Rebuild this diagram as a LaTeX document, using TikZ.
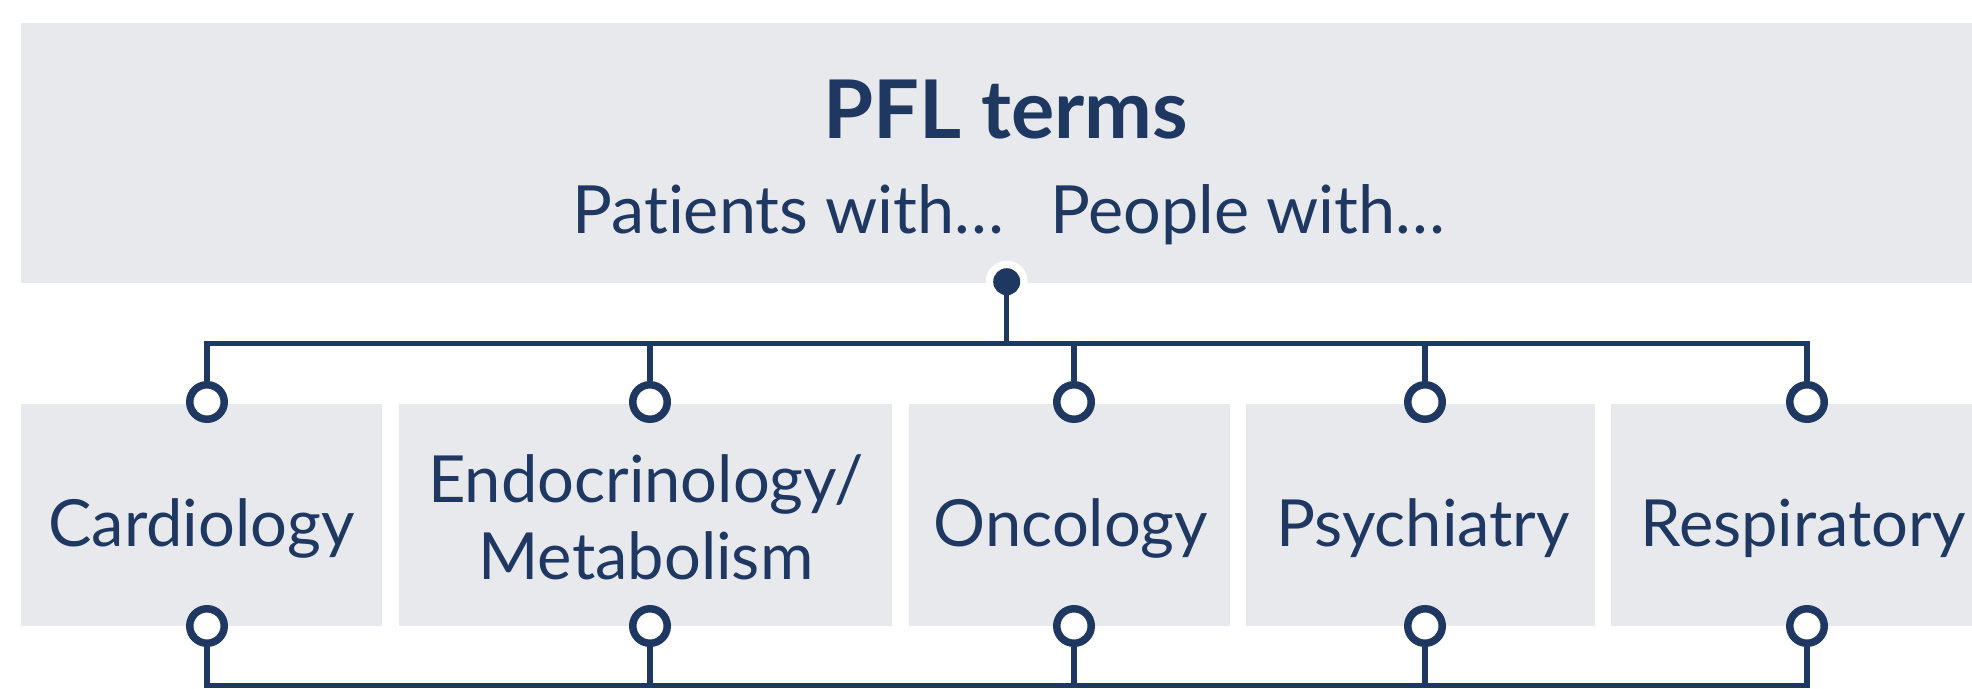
\documentclass[tikz,border=0pt]{standalone}
\usepackage{fontspec}
\setmainfont{Lato}[Ligatures=NoCommon]
\definecolor{navy}{RGB}{31,56,98}
\definecolor{panel}{RGB}{232,233,237}
\begin{document}
\begin{tikzpicture}[x=1pt,y=-1pt,
  panelbox/.style={fill=panel,draw=none,inner sep=0,outer sep=0},
  lbl/.style={text=navy,font=\fontsize{65}{78}\selectfont,inner sep=0,anchor=base},
  conn/.style={draw=navy,line width=5.5pt,line join=miter},
  ring/.style={circle,draw=navy,fill=white,line width=7.5pt,minimum size=34.5pt,inner sep=0},
  hubdot/.style={circle,fill=navy,minimum size=27pt,inner sep=0},
  halo/.style={circle,fill=white,minimum size=42pt,inner sep=0}]
\useasboundingbox (0,0) rectangle (1972,688);

% header panel and category panels
\path[panelbox] (21,23) rectangle (1972,283);
\node[panelbox,minimum width=361pt,minimum height=222pt] (card) at (201.5,515) {};
\node[panelbox,minimum width=493pt,minimum height=222pt] (endo) at (645.5,515) {};
\node[panelbox,minimum width=321pt,minimum height=222pt] (onco) at (1069.5,515) {};
\node[panelbox,minimum width=349pt,minimum height=222pt] (psych) at (1420.5,515) {};
\node[panelbox,minimum width=361pt,minimum height=222pt] (resp) at (1791.5,515) {};

% header text
\node[lbl,font=\fontsize{81}{90}\selectfont\bfseries] (title) at (1006,138) {PFL terms};
\node[lbl,font=\fontsize{66.5}{80}\selectfont] (sub) at (1009,233) {Patients with…\hspace{46pt}People with…};

% category labels
\node[lbl] (tcard) at (201.5,546) {Cardiology};
\node[lbl] (tendo1) at (646,502) {Endocrinology/};
\node[lbl] (tendo2) at (646,579) {Metabolism};
\node[lbl] (tonco) at (1071,546) {Oncology};
\node[lbl] (tpsych) at (1423,546) {Psychiatry};
\node[lbl] (tresp) at (1803,546) {Respiratory};

% connection points
\node[halo] (halo) at (1006.7,281.7) {};
\node[hubdot] (hub) at (1006.7,281.7) {};
\coordinate (topbus) at (1006.7,343.7);
\coordinate (botbus) at (1006.7,685.5);

\node[ring] (t1) at (207,402) {};
\node[ring] (t2) at (650,402) {};
\node[ring] (t3) at (1074,402) {};
\node[ring] (t4) at (1425,402) {};
\node[ring] (t5) at (1807,402) {};
\node[ring] (b1) at (207,626) {};
\node[ring] (b2) at (650,626) {};
\node[ring] (b3) at (1074,626) {};
\node[ring] (b4) at (1425,626) {};
\node[ring] (b5) at (1807,626) {};

% bus lines from the hub to the category rings
\draw[conn] (hub) -- (topbus);
\draw[conn] (t1) -- (t1 |- topbus) -- (t5 |- topbus) -- (t5);
\draw[conn] (t2) -- (t2 |- topbus);
\draw[conn] (t3) -- (t3 |- topbus);
\draw[conn] (t4) -- (t4 |- topbus);
\draw[conn] (b1) -- (b1 |- botbus) -- (b5 |- botbus) -- (b5);
\draw[conn] (b2) -- (b2 |- botbus);
\draw[conn] (b3) -- (b3 |- botbus);
\draw[conn] (b4) -- (b4 |- botbus);
\end{tikzpicture}
\end{document}
